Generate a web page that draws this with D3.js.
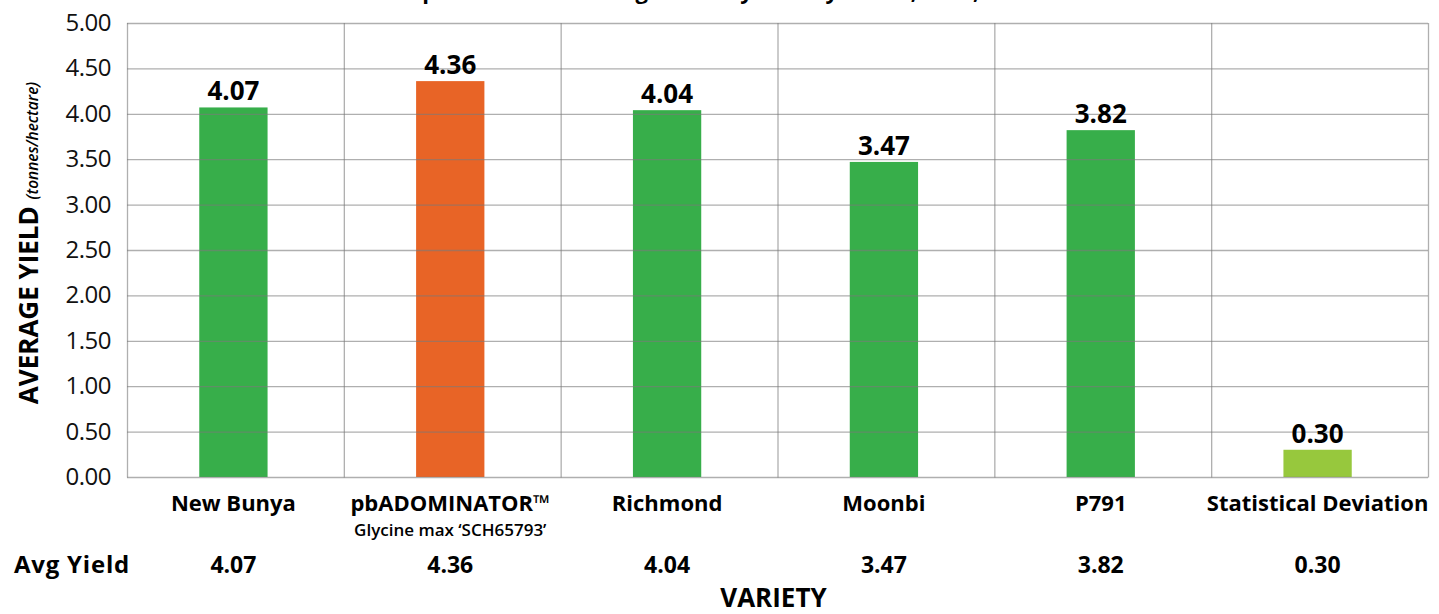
<!DOCTYPE html>
<html><head><meta charset="utf-8">
<script src="https://cdn.jsdelivr.net/npm/d3@7"></script>
<style>body{margin:0;background:#fff;} svg{display:block;font-family:"Open Sans",sans-serif;}</style>
</head><body>
<svg id="c" width="1439" height="614"></svg>
<script>
const categories = ["New Bunya","pbADOMINATOR™","Richmond","Moonbi","P791","Statistical Deviation"];
const subLabels = ["","Glycine max ‘SCH65793’","","","",""];
const values = [4.07,4.36,4.04,3.47,3.82,0.30];
const valueLabels = ["4.07","4.36","4.04","3.47","3.82","0.30"];
const barColors = ["#37AE4A","#E86426","#37AE4A","#37AE4A","#37AE4A","#97C83D"];
const yTicks = [0,0.5,1,1.5,2,2.5,3,3.5,4,4.5,5];

const svg = d3.select("#c");
const L=127,R=1428,T=23,B=477;
const x = d3.scaleBand().domain(categories).range([L,R]).paddingInner(0).paddingOuter(0);
const y = d3.scaleLinear().domain([0,5]).range([B,T]);
const bw = x.bandwidth()*0.315;
const cx = d => x(d)+x.bandwidth()/2 - 2;

// title (cut off at top, as in the reference)
svg.append("text").attr("x",715).attr("y",-1).attr("text-anchor","middle")
  .attr("font-weight","bold").attr("font-size",22)
  .text("Replicated Trial Average Yield by Variety – 2019, 2020, 2021");

// bars
svg.selectAll("rect.bar").data(categories).join("rect").attr("class","bar")
  .attr("x",d=>cx(d)-bw/2).attr("width",bw)
  .attr("y",(d,i)=>y(values[i])).attr("height",(d,i)=>B-y(values[i]))
  .attr("fill",(d,i)=>barColors[i]);

// horizontal grid
svg.append("g").selectAll("line").data(yTicks).join("line")
  .attr("x1",L).attr("x2",R).attr("y1",d=>y(d)+0.5).attr("y2",d=>y(d)+0.5)
  .attr("stroke","#7a7a7a").attr("stroke-opacity",0.6).attr("stroke-width",1.3);
// vertical dividers
const divs = categories.map(c=>x(c)).concat([R]);
svg.append("g").selectAll("line").data(divs).join("line")
  .attr("x1",d=>d+0.5).attr("x2",d=>d+0.5).attr("y1",T).attr("y2",B+0.5)
  .attr("stroke","#7a7a7a").attr("stroke-opacity",0.6).attr("stroke-width",1.3);

// y tick labels
svg.append("g").selectAll("text").data(yTicks).join("text")
  .attr("x",111).attr("y",d=>y(d)+8).attr("text-anchor","end")
  .attr("font-size",24).attr("letter-spacing",-0.5).attr("fill","#111").text(d=>d.toFixed(2));

// value labels
svg.append("g").selectAll("text").data(categories).join("text")
  .attr("x",d=>cx(d)).attr("y",(d,i)=>y(values[i])-7)
  .attr("text-anchor","middle").attr("font-weight","bold").attr("font-size",26)
  .text((d,i)=>valueLabels[i]);

// category labels
svg.append("g").selectAll("text").data(categories).join("text")
  .attr("x",d=>cx(d)).attr("y",511)
  .attr("text-anchor","middle").attr("font-weight","bold").attr("font-size",22)
  .text(d=>d);
svg.append("g").selectAll("text").data(categories).join("text")
  .attr("x",d=>cx(d)).attr("y",536)
  .attr("text-anchor","middle").attr("font-weight","600").attr("font-size",17)
  .text((d,i)=>subLabels[i]);

// avg yield row
svg.append("text").attr("x",72).attr("y",573).attr("text-anchor","middle")
  .attr("font-weight","bold").attr("font-size",24).attr("letter-spacing",0.8).text("Avg Yield");
svg.append("g").selectAll("text").data(categories).join("text")
  .attr("x",d=>cx(d)).attr("y",573)
  .attr("text-anchor","middle").attr("font-weight","bold").attr("font-size",23)
  .text((d,i)=>valueLabels[i]);

// x axis title
svg.append("text").attr("x",(L+R)/2-4).attr("y",607).attr("text-anchor","middle")
  .attr("font-weight","bold").attr("font-size",26).text("VARIETY");

// y axis title
const yt = svg.append("text").attr("transform","translate(38,243) rotate(-90)")
  .attr("text-anchor","middle");
yt.append("tspan").attr("font-weight","bold").attr("font-size",26).text("AVERAGE YIELD ");
yt.append("tspan").attr("font-style","italic").attr("font-weight","600").attr("font-size",15.5).text("(tonnes/hectare)");
</script>
</body></html>
